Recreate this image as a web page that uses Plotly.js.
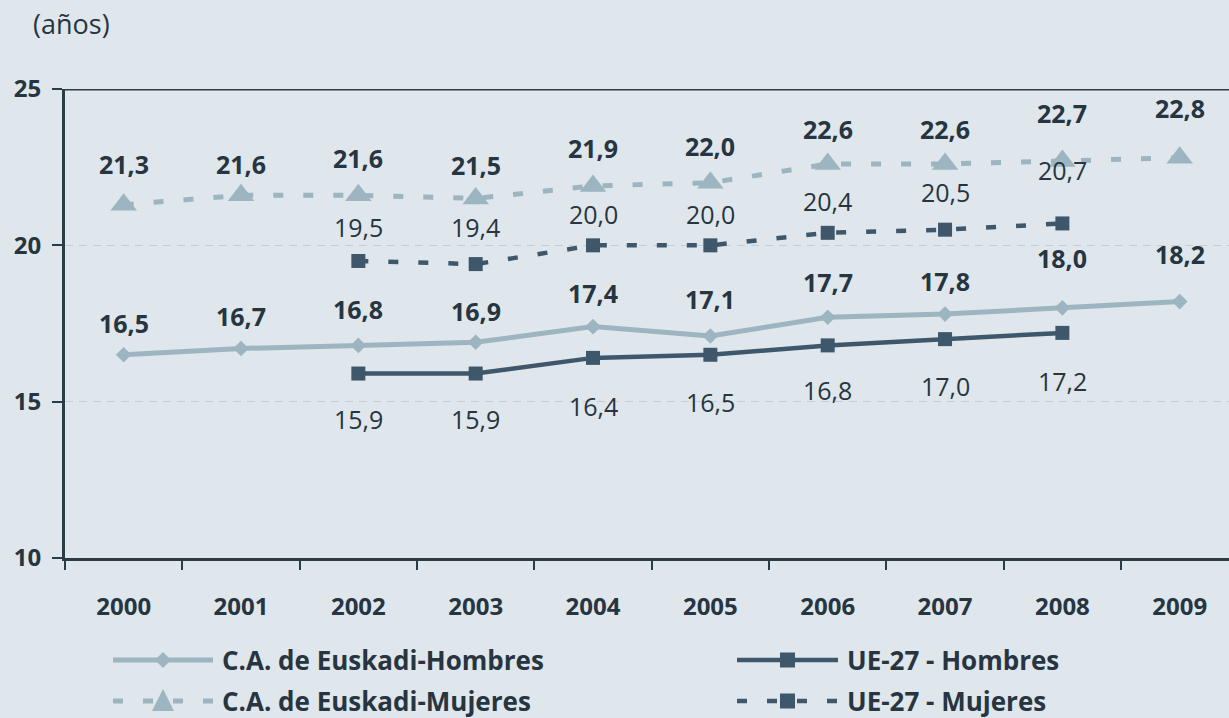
<!DOCTYPE html>
<html>
<head>
<meta charset="utf-8">
<script src="https://cdn.plot.ly/plotly-3.0.1.min.js"></script>
<style>
html,body{margin:0;padding:0;background:#dfe6ec;}
#chart{width:1229px;height:718px;}
</style>
</head>
<body>
<div id="chart"></div>
<script>
// ---- data ----
const years = ['2000','2001','2002','2003','2004','2005','2006','2007','2008','2009'];
const euskadiHombres = [16.5, 16.7, 16.8, 16.9, 17.4, 17.1, 17.7, 17.8, 18.0, 18.2];
const euskadiMujeres = [21.3, 21.6, 21.6, 21.5, 21.9, 22.0, 22.6, 22.6, 22.7, 22.8];
const ueHombres = [null, null, 15.9, 15.9, 16.4, 16.5, 16.8, 17.0, 17.2, null];
const ueMujeres = [null, null, 19.5, 19.4, 20.0, 20.0, 20.4, 20.5, 20.7, null];
const seriesNames = ['C.A. de Euskadi-Hombres', 'UE-27 - Hombres', 'C.A. de Euskadi-Mujeres', 'UE-27 - Mujeres'];
const yTicks = [10, 15, 20, 25];

// ---- style ----
const BG = '#dfe6ec';
const LIGHT = '#9db5c1';
const DARK = '#3e576b';
const TXT = '#263540';
const AXIS = '#2b3c47';
const FONT = 'Open Sans, Noto Sans, sans-serif';

// value-label placement offsets in pixels (negative = above the point)
const shiftEH = [-32, -33, -36, -31, -34, -37, -35, -33, -50, -48];
const shiftEM = [-41, -31, -37, -33, -38, -37, -35, -35, -48, -50];
const shiftUH = [0, 0, 45, 45, 48, 47, 45, 47, 48, 0];
const shiftUM = [0, 0, -34, -37, -31, -31, -32, -38, -53, 0];

const fmt = v => v.toFixed(1).replace('.', ',');

const traces = [
  {x: years, y: euskadiHombres, name: seriesNames[0], type: 'scatter', mode: 'lines+markers',
   line: {color: LIGHT, width: 5}, marker: {symbol: 'diamond', size: 12, color: LIGHT}},
  {x: years, y: ueHombres, name: seriesNames[1], type: 'scatter', mode: 'lines+markers',
   line: {color: DARK, width: 4.5}, marker: {symbol: 'square', size: 14, color: DARK}},
  {x: years, y: euskadiMujeres, name: seriesNames[2], type: 'scatter', mode: 'lines+markers',
   line: {color: LIGHT, width: 5, dash: '10px,20px'}, marker: {symbol: 'triangle-up', size: 23, color: LIGHT}},
  {x: years, y: ueMujeres, name: seriesNames[3], type: 'scatter', mode: 'lines+markers',
   line: {color: DARK, width: 4.5, dash: '10px,20px'}, marker: {symbol: 'square', size: 14, color: DARK}}
];

const annotations = [];
function addLabels(vals, shifts, bold) {
  vals.forEach((v, i) => {
    if (v === null) return;
    annotations.push({x: i, y: v, xref: 'x', yref: 'y', text: fmt(v), showarrow: false,
      yshift: -shifts[i], xanchor: 'center', yanchor: 'middle',
      font: {family: FONT, size: 25, color: TXT, weight: bold ? 'bold' : 'normal'}});
  });
}
addLabels(euskadiHombres, shiftEH, true);
addLabels(euskadiMujeres, shiftEM, true);
addLabels(ueHombres, shiftUH, false);
addLabels(ueMujeres, shiftUM, false);

// geometry helpers (pixel -> paper)
const L = 65, T = 89, W = 1164, H = 469;
const px = p => (p - L) / W;
const py = p => (T + H - p) / H;

annotations.push({x: px(71), y: py(24), xref: 'paper', yref: 'paper', text: '(años)', showarrow: false,
  xanchor: 'center', yanchor: 'middle', font: {family: FONT, size: 27, color: TXT}});

// custom legend
const shapes = [
  {type: 'line', xref: 'paper', yref: 'y', x0: 0, x1: 1, y0: 25, y1: 25, line: {color: AXIS, width: 3}}
];
const legendItems = [
  {name: seriesNames[0], x0: 113, x1: 213, y: 660, color: LIGHT, width: 5, dash: 'solid', sym: 'diamond'},
  {name: seriesNames[1], x0: 737, x1: 838, y: 660, color: DARK, width: 4.5, dash: 'solid', sym: 'square'},
  {name: seriesNames[2], x0: 113, x1: 213, y: 701, color: LIGHT, width: 5, dash: '10px,20px', sym: 'triangle'},
  {name: seriesNames[3], x0: 737, x1: 838, y: 701, color: DARK, width: 4.5, dash: '10px,20px', sym: 'square'}
];
legendItems.forEach(it => {
  shapes.push({type: 'line', xref: 'paper', yref: 'paper', x0: px(it.x0), x1: px(it.x1), y0: py(it.y), y1: py(it.y),
    line: {color: it.color, width: it.width, dash: it.dash}});
  const cx = px((it.x0 + it.x1) / 2), cy = py(it.y);
  let path;
  if (it.sym === 'diamond') path = 'M0,8 L8,0 L0,-8 L-8,0 Z';
  else if (it.sym === 'square') path = 'M-7.5,-7.5 L7.5,-7.5 L7.5,7.5 L-7.5,7.5 Z';
  else path = 'M-11,-10 L11,-10 L0,12 Z';
  shapes.push({type: 'path', xref: 'paper', yref: 'paper', xsizemode: 'pixel', ysizemode: 'pixel',
    xanchor: cx, yanchor: cy, path: path, fillcolor: it.color, line: {width: 0}});
  annotations.push({x: px(it.x1 + 7), y: cy, xref: 'paper', yref: 'paper', text: it.name, showarrow: false,
    xanchor: 'left', yanchor: 'middle', font: {family: FONT, size: 26, color: TXT, weight: 'bold'}});
});

const layout = {
  width: 1229, height: 718,
  margin: {l: L, r: 1229 - L - W, t: T, b: 718 - T - H, pad: 0},
  paper_bgcolor: BG, plot_bgcolor: BG,
  showlegend: false,
  font: {family: FONT, color: TXT},
  xaxis: {type: 'category', range: [-0.5, 9.42], tickson: 'boundaries', ticks: 'outside', ticklen: 9,
    tickwidth: 2, tickcolor: AXIS, showline: true, linewidth: 3, linecolor: AXIS, showgrid: false,
    zeroline: false, ticklabelstandoff: 25,
    tickfont: {family: FONT, size: 24, color: TXT, weight: 'bold'}},
  yaxis: {range: [10, 25], tickvals: yTicks, ticktext: yTicks.map(String), ticks: 'outside', ticklen: 10,
    tickwidth: 2, tickcolor: AXIS, showline: true, linewidth: 3, linecolor: AXIS,
    showgrid: true, gridcolor: '#c6ced3', gridwidth: 1.5, griddash: '8px,6px', zeroline: false,
    ticklabelstandoff: 6,
    tickfont: {family: FONT, size: 24, color: TXT, weight: 'bold'}},
  annotations: annotations,
  shapes: shapes
};

Plotly.newPlot('chart', traces, layout, {displayModeBar: false, staticPlot: true});
</script>
</body>
</html>
